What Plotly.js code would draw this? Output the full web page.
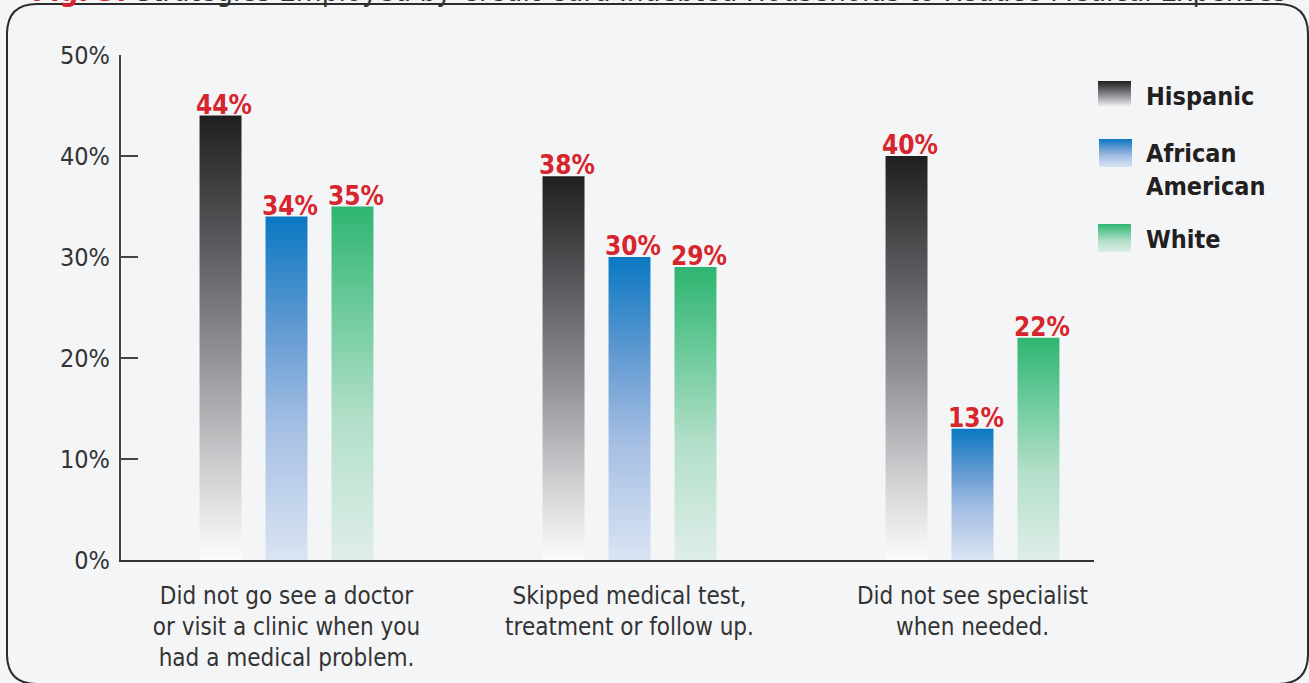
<!DOCTYPE html>
<html>
<head>
<meta charset="utf-8">
<script src="https://cdn.plot.ly/plotly-3.0.1.min.js"></script>
<style>
  html, body { margin: 0; padding: 0; background: #f4f5f7; }
  #chart { width: 1309px; height: 683px; }
</style>
</head>
<body>
<div id="chart"></div>
<script>
// ---- data ----
const categories = [
  "Did not go see a doctor<br>or visit a clinic when you<br>had a medical problem.",
  "Skipped medical test,<br>treatment or follow up.",
  "Did not see specialist<br>when needed."
];
const seriesNames = ["Hispanic", "African American", "White"];
const hispanic = [44, 38, 40];
const africanAmerican = [34, 30, 13];
const white = [35, 29, 22];
const yTickVals = [0, 10, 20, 30, 40, 50];
const yTickLabels = ["0%", "10%", "20%", "30%", "40%", "50%"];
const titleLead = "Fig. 3:";
const titleRest = "Strategies Employed by Credit Card Indebted Households to Reduce Medical Expenses";

// ---- style ----
const FONT = "DejaVu Sans Condensed, Liberation Sans Narrow, sans-serif";
const BG = "#f4f5f7";
const INK = "#333333";
const RED = "#d7252e";
const W = 1309, H = 683;
const mL = 121, mR = W - 1094, mT = 55, mB = H - 560;
const plotW = W - mL - mR, plotH = H - mT - mB;
const px2x = p => (p - mL) / plotW;
const px2y = p => (H - mB - p) / plotH;

const allSeries = [hispanic, africanAmerican, white];
const topColors = ["#222223", "#0a78c2", "#2fb571"];
const gradStops = [
  [[0, "#1f1f20"], [0.3, "#5c5d60"], [0.55, "#939497"], [0.8, "#cfd0d2"], [1, "#fcfcfc"]],
  [[0, "#0a78c2"], [0.3, "#5b97d0"], [0.6, "#a3bde3"], [1, "#dae4f3"]],
  [[0, "#2fb571"], [0.3, "#6fcb9d"], [0.6, "#b2dfc9"], [1, "#dfeee8"]]
];

const traces = allSeries.map((vals, i) => ({
  type: "bar",
  name: seriesNames[i],
  x: [0, 1, 2],
  y: vals,
  marker: { color: topColors[i], line: { width: 0 } },
  hovertemplate: seriesNames[i] + ": %{y}%<extra></extra>",
  showlegend: false
}));

const annotations = [];
// title (cropped at top, as in the reference)
annotations.push({
  xref: "paper", yref: "paper",
  x: px2x(659), y: px2y(10), xanchor: "center", yanchor: "bottom",
  text: "<b><span style='color:" + RED + "'>" + titleLead + "</span></b> " + titleRest,
  showarrow: false, font: { family: FONT, size: 29.5, color: INK }
});
// value labels
allSeries.forEach((vals, i) => {
  vals.forEach((v, j) => {
    annotations.push({
      xref: "x", yref: "y", x: j, y: v,
      xanchor: "center", yanchor: "bottom",
      xshift: (i - 1) * 66 + 3, yshift: -6,
      text: "<b>" + v + "%</b>", showarrow: false,
      font: { family: FONT, size: 26, color: RED }
    });
  });
});
// legend labels
const legendText = [["Hispanic"], ["African", "American"], ["White"]];
const legendY = [[97], [154, 186], [239]];
legendText.forEach((lines, i) => {
  lines.forEach((t, k) => {
    annotations.push({
      xref: "paper", yref: "paper", x: px2x(1144), y: px2y(legendY[i][k]),
      xanchor: "left", yanchor: "middle", text: "<b>" + t + "</b>",
      showarrow: false, font: { family: FONT, size: 25, color: "#231f20" }
    });
  });
});

const swatches = [[1098, 81, 1131, 108], [1099, 139, 1132, 167], [1098, 224, 1131, 252]];
const shapes = swatches.map((s, i) => ({
  type: "rect", xref: "paper", yref: "paper",
  x0: px2x(s[0]), x1: px2x(s[2]), y0: px2y(s[3]), y1: px2y(s[1]),
  fillcolor: topColors[i], line: { width: 0 }
}));
// rounded frame
(function () {
  const L = 7, R = 1308, T = 4, B = 684, r = 30;
  const X = px2x, Y = px2y;
  const path = `M ${X(L)} ${Y(T + r)} Q ${X(L)} ${Y(T)} ${X(L + r)} ${Y(T)} L ${X(R - r)} ${Y(T)} ` +
    `Q ${X(R)} ${Y(T)} ${X(R)} ${Y(T + r)} L ${X(R)} ${Y(B - r)} Q ${X(R)} ${Y(B)} ${X(R - r)} ${Y(B)} ` +
    `L ${X(L + r)} ${Y(B)} Q ${X(L)} ${Y(B)} ${X(L)} ${Y(B - r)} Z`;
  shapes.push({ type: "path", xref: "paper", yref: "paper", path: path,
    line: { color: "#2b2b2b", width: 2 }, fillcolor: "rgba(0,0,0,0)" });
})();

const layout = {
  width: W, height: H,
  margin: { l: mL, r: mR, t: mT, b: mB, pad: 0 },
  paper_bgcolor: BG, plot_bgcolor: BG,
  barmode: "group", bargap: 0.423, bargroupgap: 0.364,
  showlegend: false,
  xaxis: {
    type: "linear",
    range: [(mL - 286.5) / 343, (1094 - 286.5) / 343],
    tickmode: "array", tickvals: [0, 1, 2], ticktext: categories,
    showline: true, linecolor: INK, linewidth: 2,
    ticks: "", showgrid: false, zeroline: false,
    ticklabelstandoff: 13,
    tickfont: { family: FONT, size: 24, color: INK }
  },
  yaxis: {
    range: [0, 50], tickmode: "array", tickvals: yTickVals, ticktext: yTickLabels,
    showline: true, linecolor: "#444", linewidth: 2,
    ticks: "inside", ticklen: 17, tickwidth: 2, tickcolor: "#444",
    showgrid: false, zeroline: false,
    ticklabelstandoff: 4,
    tickfont: { family: FONT, size: 25, color: INK }
  },
  annotations: annotations,
  shapes: shapes
};

const gd = document.getElementById("chart");
Plotly.newPlot(gd, traces, layout, { displayModeBar: false }).then(() => {
  const svg = gd.querySelector("svg.main-svg");
  const NS = "http://www.w3.org/2000/svg";
  const defs = document.createElementNS(NS, "defs");
  gradStops.forEach((stops, i) => {
    const g = document.createElementNS(NS, "linearGradient");
    g.setAttribute("id", "barGrad" + i);
    g.setAttribute("x1", "0"); g.setAttribute("y1", "0");
    g.setAttribute("x2", "0"); g.setAttribute("y2", "1");
    stops.forEach(s => {
      const st = document.createElementNS(NS, "stop");
      st.setAttribute("offset", s[0]);
      st.setAttribute("stop-color", s[1]);
      g.appendChild(st);
    });
    defs.appendChild(g);
  });
  svg.insertBefore(defs, svg.firstChild);
  gd.querySelectorAll(".barlayer .trace").forEach((tr, i) => {
    tr.querySelectorAll(".point path").forEach(p => { p.style.fill = "url(#barGrad" + i + ")"; });
  });
  gd.querySelectorAll(".shapelayer path").forEach(p => {
    const idx = parseInt(p.getAttribute("data-index"), 10);
    if (idx >= 0 && idx < 3) p.style.fill = "url(#barGrad" + idx + ")";
  });
});
</script>
</body>
</html>
